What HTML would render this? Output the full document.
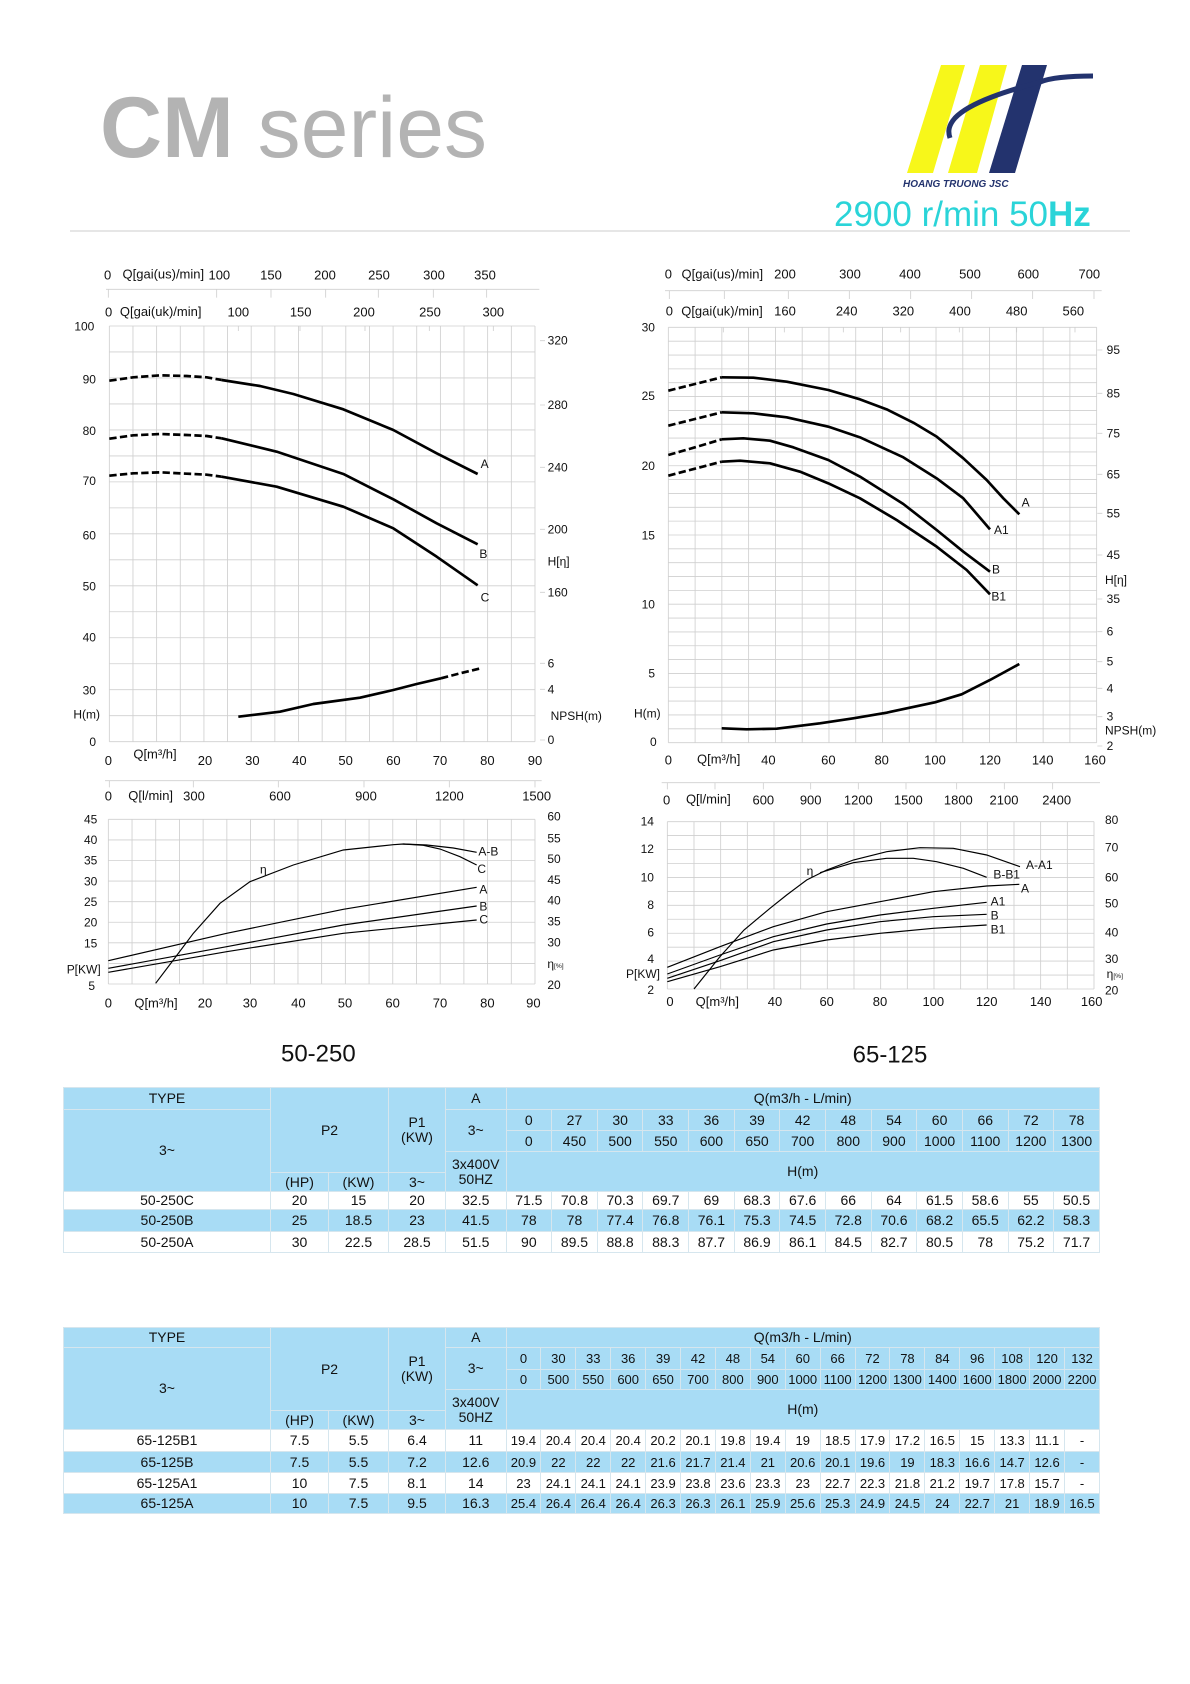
<!DOCTYPE html>
<html><head><meta charset="utf-8"><style>
body{margin:0;background:#fff;width:1190px;height:1684px;position:relative;overflow:hidden;font-family:"Liberation Sans",Arial,sans-serif}
svg{position:absolute;left:0;top:0}
table{position:absolute;left:63px;border-collapse:collapse;table-layout:fixed;width:1036px;font-size:14px;color:#111}
td{border:1px solid #d6e6ee;padding:0;text-align:center;vertical-align:middle;line-height:15px;white-space:nowrap;overflow:hidden}
.b td,td.b{background:#a8dcf5}
.w td{background:#fff}
.t2 td{font-size:13px}
</style></head><body>
<svg width="1190" height="1684" viewBox="0 0 1190 1684" font-family="Liberation Sans, Arial, sans-serif">
<!-- header -->
<text x="100" y="157" font-size="86" fill="#b3b3b3"><tspan font-weight="bold">CM</tspan> series</text>
<polygon points="941,65 965,65 933,173 907,173" fill="#f7f71a"/>
<polygon points="980,65 1007,65 977,173 948,173" fill="#f7f71a"/>
<polygon points="1022,65 1047,65 1015,173 989,173" fill="#23336e"/>
<path d="M1093,76 C1070,76 1050,78 1040,82 C1010,90 970,102 955,118 C948,126 948,132 950,138" stroke="#23336e" stroke-width="5" fill="none"/>
<text x="903" y="187" font-size="10" font-style="italic" font-weight="bold" fill="#23336e">HOANG TRUONG JSC</text>
<text x="834" y="226" font-size="35" fill="#2ad4d8">2900 r/min 50<tspan font-weight="bold">Hz</tspan></text>
<line x1="70" y1="231" x2="1130" y2="231" stroke="#d8d8d8" stroke-width="1.2"/>

<!-- chart 1 -->
<g transform="translate(60,250) scale(0.33333)" font-size="36" fill="#111">
<path d="M148,228V1475M218.9,228V1475M289.9,228V1475M360.8,228V1475M431.8,228V1475M502.7,228V1475M573.6,228V1475M644.6,228V1475M715.5,228V1475M786.5,228V1475M857.4,228V1475M928.3,228V1475M999.3,228V1475M1070.2,228V1475M1141.2,228V1475M1212.1,228V1475M1283,228V1475M1354,228V1475M1425,228V1475
M148,228H1425M148,305.9H1425M148,383.9H1425M148,461.8H1425M148,539.8H1425M148,617.7H1425M148,695.6H1425M148,773.6H1425M148,851.5H1425M148,929.5H1425M148,1007.4H1425M148,1085.3H1425M148,1163.3H1425M148,1241.2H1425M148,1319.2H1425M148,1397.1H1425M148,1475H1425" stroke="#cfcfcf" stroke-width="2.5" fill="none"/>
<path d="M138,118H1438M145,118v25M470,118v25M633,118v25M797,118v25M955,118v25M1120,118v25M1280,118v25M535,228v15M720,228v15M915,228v15M1108,228v15M1300,228v15M1440,272h15M1440,465h15M1440,652h15M1440,838h15M1440,1027h15M1440,1240h15M1440,1318h15M1440,1470h15" stroke="#cfcfcf" stroke-width="2.5"/>
<g font-size="39" text-anchor="middle"><text x="143" y="88">0</text><text x="478" y="88">100</text><text x="633" y="88">150</text><text x="795" y="88">200</text><text x="957" y="88">250</text><text x="1122" y="88">300</text><text x="1275" y="88">350</text>
<text x="146" y="200">0</text><text x="535" y="200">100</text><text x="722" y="200">150</text><text x="912" y="200">200</text><text x="1110" y="200">250</text><text x="1300" y="200">300</text>
<text x="145" y="1545">0</text><text x="435" y="1545">20</text><text x="577" y="1545">30</text><text x="718" y="1545">40</text><text x="857" y="1545">50</text><text x="1000" y="1545">60</text><text x="1140" y="1545">70</text><text x="1282" y="1545">80</text><text x="1425" y="1545">90</text></g>
<text x="310" y="86" font-size="39" text-anchor="middle">Q[gai(us)/min]</text>
<text x="302" y="198" font-size="39" text-anchor="middle">Q[gai(uk)/min]</text>
<text x="285" y="1525" font-size="39" text-anchor="middle">Q[m³/h]</text>
<g text-anchor="end"><text x="103" y="241">100</text><text x="108" y="400">90</text><text x="108" y="555">80</text><text x="108" y="705">70</text><text x="108" y="868">60</text><text x="108" y="1022">50</text><text x="108" y="1175">40</text><text x="108" y="1333">30</text><text x="120" y="1405">H(m)</text><text x="108" y="1488">0</text></g>
<g><text x="1463" y="284">320</text><text x="1463" y="477">280</text><text x="1463" y="664">240</text><text x="1463" y="850">200</text><text x="1463" y="947">H[η]</text><text x="1463" y="1039">160</text><text x="1463" y="1252">6</text><text x="1463" y="1330">4</text><text x="1472" y="1410">NPSH(m)</text><text x="1463" y="1482">0</text></g>
<g fill="none" stroke="#000" stroke-width="8" stroke-linejoin="round">
<polyline stroke-dasharray="22,10" points="148,392 220,382 300,376 380,378 440,382 485,390"/>
<polyline points="485,390 600,408 700,432 850,478 1000,540 1130,610 1253,672"/>
<polyline stroke-dasharray="22,10" points="148,566 220,556 300,552 380,555 440,558 485,565"/>
<polyline points="485,565 650,605 850,672 1000,748 1130,820 1253,883"/>
<polyline stroke-dasharray="22,10" points="148,677 220,670 300,667 380,671 440,674 485,680"/>
<polyline points="485,680 650,710 850,770 1000,835 1130,920 1253,1006"/>
<polyline points="535,1400 660,1385 760,1362 900,1343 1000,1320 1070,1302 1143,1285"/>
<polyline stroke-dasharray="22,10" points="1143,1285 1200,1270 1258,1256"/>
</g>
<text x="1262" y="654">A</text><text x="1258" y="924">B</text><text x="1262" y="1054">C</text>
</g>

<!-- chart 2 -->
<g transform="translate(620,250) scale(0.33333)" font-size="36" fill="#111">
<path d="M145,232V1478M225.3,232V1478M305.6,232V1478M385.9,232V1478M466.3,232V1478M546.6,232V1478M626.9,232V1478M707.2,232V1478M787.5,232V1478M867.8,232V1478M948.1,232V1478M1028.4,232V1478M1108.8,232V1478M1189.1,232V1478M1269.4,232V1478M1349.7,232V1478M1430,232V1478
M145,232H1430M145,273.5H1430M145,315.1H1430M145,356.6H1430M145,398.1H1430M145,439.7H1430M145,481.2H1430M145,522.7H1430M145,564.3H1430M145,605.8H1430M145,647.3H1430M145,688.8H1430M145,730.4H1430M145,771.9H1430M145,813.4H1430M145,855H1430M145,896.5H1430M145,938H1430M145,979.6H1430M145,1021.1H1430M145,1062.6H1430M145,1104.2H1430M145,1145.7H1430M145,1187.2H1430M145,1228.8H1430M145,1270.3H1430M145,1311.8H1430M145,1353.3H1430M145,1394.9H1430M145,1436.4H1430M145,1478H1430" stroke="#cfcfcf" stroke-width="2.5" fill="none"/>
<path d="M135,122H1445M148,122v25M313,122v25M505,122v25M688,122v25M872,122v25M1055,122v25M1238,122v25M1422,122v25M310,232v15M493,232v15M670,232v15M842,232v15M1018,232v15M1190,232v15M1365,232v15M1432,300h15M1432,430h15M1432,550h15M1432,673h15M1432,790h15M1432,915h15M1432,1047h15M1432,1145h15M1432,1235h15M1432,1315h15M1432,1400h15M1432,1488h15" stroke="#cfcfcf" stroke-width="2.5"/>
<g font-size="39" text-anchor="middle"><text x="145" y="85">0</text><text x="495" y="85">200</text><text x="690" y="85">300</text><text x="870" y="85">400</text><text x="1050" y="85">500</text><text x="1225" y="85">600</text><text x="1408" y="85">700</text>
<text x="148" y="196">0</text><text x="495" y="196">160</text><text x="680" y="196">240</text><text x="850" y="196">320</text><text x="1020" y="196">400</text><text x="1190" y="196">480</text><text x="1360" y="196">560</text>
<text x="145" y="1543">0</text><text x="445" y="1543">40</text><text x="625" y="1543">60</text><text x="785" y="1543">80</text><text x="945" y="1543">100</text><text x="1110" y="1543">120</text><text x="1268" y="1543">140</text><text x="1425" y="1543">160</text></g>
<text x="307" y="85" font-size="39" text-anchor="middle">Q[gai(us)/min]</text>
<text x="306" y="196" font-size="39" text-anchor="middle">Q[gai(uk)/min]</text>
<text x="296" y="1541" font-size="39" text-anchor="middle">Q[m³/h]</text>
<g text-anchor="end"><text x="105" y="245">30</text><text x="105" y="450">25</text><text x="105" y="660">20</text><text x="105" y="868">15</text><text x="105" y="1076">10</text><text x="105" y="1283">5</text><text x="122" y="1402">H(m)</text><text x="110" y="1488">0</text></g>
<g><text x="1460" y="312">95</text><text x="1460" y="442">85</text><text x="1460" y="562">75</text><text x="1460" y="685">65</text><text x="1460" y="802">55</text><text x="1460" y="927">45</text><text x="1455" y="1002">H[η]</text><text x="1460" y="1059">35</text><text x="1460" y="1157">6</text><text x="1460" y="1247">5</text><text x="1460" y="1327">4</text><text x="1460" y="1412">3</text><text x="1455" y="1454">NPSH(m)</text><text x="1460" y="1500">2</text></g>
<g fill="none" stroke="#000" stroke-width="8" stroke-linejoin="round">
<polyline stroke-dasharray="22,10" points="145,422 225,402 305,382"/>
<polyline points="305,382 400,383 500,395 625,420 720,448 800,478 880,518 950,560 1030,625 1100,690 1150,745 1198,793"/>
<polyline stroke-dasharray="22,10" points="145,527 225,507 305,487"/>
<polyline points="305,487 400,490 500,502 625,530 720,562 850,622 950,685 1030,745 1110,838"/>
<polyline stroke-dasharray="22,10" points="145,615 225,592 305,568"/>
<polyline points="305,568 370,565 450,572 520,592 625,630 720,680 850,762 950,840 1030,905 1110,965"/>
<polyline stroke-dasharray="22,10" points="145,677 225,656 305,635"/>
<polyline points="305,635 360,632 450,640 540,665 625,700 720,745 830,810 950,890 1040,960 1110,1033"/>
<polyline points="305,1435 380,1438 470,1436 600,1420 700,1405 800,1388 945,1357 1025,1333 1110,1290 1198,1242"/>
</g>
<text x="1205" y="770">A</text><text x="1122" y="852">A1</text><text x="1116" y="970">B</text><text x="1114" y="1052">B1</text>
</g>

<!-- chart 3 -->
<g transform="translate(60,770) scale(0.33333)" font-size="36" fill="#111">
<path d="M145,148V642M216.1,148V642M287.2,148V642M358.3,148V642M429.4,148V642M500.6,148V642M571.7,148V642M642.8,148V642M713.9,148V642M785,148V642M856.1,148V642M927.2,148V642M998.3,148V642M1069.4,148V642M1140.6,148V642M1211.7,148V642M1282.8,148V642M1353.9,148V642M1425,148V642
M145,148H1425M145,209.75H1425M145,271.5H1425M145,333.25H1425M145,395H1425M145,456.75H1425M145,518.5H1425M145,580.25H1425M145,642H1425" stroke="#cfcfcf" stroke-width="2.5" fill="none"/>
<path d="M135,32H1445M148,32v20M400,32v20M655,32v20M912,32v20M1168,32v20M1425,32v20" stroke="#cfcfcf" stroke-width="2.5"/>
<g font-size="39" text-anchor="middle"><text x="145" y="92">0</text><text x="402" y="92">300</text><text x="660" y="92">600</text><text x="918" y="92">900</text><text x="1168" y="92">1200</text><text x="1430" y="92">1500</text>
<text x="145" y="712">0</text><text x="435" y="712">20</text><text x="570" y="712">30</text><text x="715" y="712">40</text><text x="855" y="712">50</text><text x="998" y="712">60</text><text x="1140" y="712">70</text><text x="1282" y="712">80</text><text x="1420" y="712">90</text></g>
<text x="272" y="90" font-size="39" text-anchor="middle">Q[l/min]</text>
<text x="288" y="712" font-size="39" text-anchor="middle">Q[m³/h]</text>
<g text-anchor="end"><text x="112" y="160">45</text><text x="112" y="222">40</text><text x="112" y="284">35</text><text x="112" y="347">30</text><text x="112" y="408">25</text><text x="112" y="470">20</text><text x="112" y="532">15</text><text x="122" y="610">P[KW]</text><text x="105" y="660">5</text></g>
<g><text x="1462" y="152">60</text><text x="1462" y="217">55</text><text x="1462" y="279">50</text><text x="1462" y="342">45</text><text x="1462" y="404">40</text><text x="1462" y="467">35</text><text x="1462" y="529">30</text><text x="1462" y="594">η<tspan font-size="20">[%]</tspan></text><text x="1462" y="657">20</text></g>
<g fill="none" stroke="#000" stroke-width="3.5">
<polyline points="287,640 340,570 400,490 480,400 570,335 700,285 850,240 1000,224 1030,222 1100,225 1180,234 1250,247"/>
<polyline points="1030,222 1090,226 1140,237 1200,260 1250,285"/>
<polyline points="145,572 500,490 850,418 1250,352"/>
<polyline points="145,595 500,530 850,465 1250,408"/>
<polyline points="145,607 500,545 850,490 1250,450"/>
</g>
<text x="600" y="310">η</text><text x="1255" y="257">A-B</text><text x="1252" y="309">C</text>
<text x="1258" y="370">A</text><text x="1258" y="422">B</text><text x="1258" y="460">C</text>
<text x="775" y="875" font-size="72" text-anchor="middle">50-250</text>
</g>

<!-- chart 4 -->
<g transform="translate(620,770) scale(0.33333)" font-size="36" fill="#111">
<path d="M142,155V657M222,155V657M302,155V657M382,155V657M462,155V657M542,155V657M622,155V657M702,155V657M782,155V657M862,155V657M942,155V657M1022,155V657M1102,155V657M1182,155V657M1262,155V657M1342,155V657M1422,155V657
M142,155H1422M142,196.8H1422M142,238.7H1422M142,280.5H1422M142,322.3H1422M142,364.2H1422M142,406H1422M142,447.8H1422M142,489.7H1422M142,531.5H1422M142,573.3H1422M142,615.2H1422M142,657H1422" stroke="#cfcfcf" stroke-width="2.5" fill="none"/>
<path d="M125,38H1440M142,38v20M285,38v20M430,38v20M572,38v20M715,38v20M858,38v20M1010,38v20M1153,38v20M1298,38v20" stroke="#cfcfcf" stroke-width="2.5"/>
<g font-size="39" text-anchor="middle"><text x="140" y="103">0</text><text x="430" y="103">600</text><text x="572" y="103">900</text><text x="715" y="103">1200</text><text x="865" y="103">1500</text><text x="1015" y="103">1800</text><text x="1152" y="103">2100</text><text x="1310" y="103">2400</text>
<text x="150" y="708">0</text><text x="465" y="708">40</text><text x="620" y="708">60</text><text x="780" y="708">80</text><text x="940" y="708">100</text><text x="1100" y="708">120</text><text x="1262" y="708">140</text><text x="1415" y="708">160</text></g>
<text x="265" y="101" font-size="39" text-anchor="middle">Q[l/min]</text>
<text x="292" y="708" font-size="39" text-anchor="middle">Q[m³/h]</text>
<g text-anchor="end"><text x="102" y="167">14</text><text x="102" y="249">12</text><text x="102" y="334">10</text><text x="102" y="417">8</text><text x="102" y="499">6</text><text x="102" y="579">4</text><text x="120" y="624">P[KW]</text><text x="102" y="672">2</text></g>
<g><text x="1455" y="162">80</text><text x="1455" y="245">70</text><text x="1455" y="334">60</text><text x="1455" y="412">50</text><text x="1455" y="500">40</text><text x="1455" y="579">30</text><text x="1460" y="624">η<tspan font-size="20">[%]</tspan></text><text x="1455" y="674">20</text></g>
<g fill="none" stroke="#000" stroke-width="3.5">
<polyline points="222,657 300,560 372,480 450,415 500,375 560,330 620,300 700,270 800,245 900,233 1000,235 1100,255 1200,290"/>
<polyline points="600,308 700,278 800,265 880,265 950,275 1030,295 1100,322"/>
<polyline points="142,592 300,530 460,470 620,425 780,395 940,365 1100,348 1198,343"/>
<polyline points="142,612 300,555 460,500 620,462 780,435 940,415 1100,397"/>
<polyline points="142,625 300,572 460,515 620,480 780,455 940,440 1100,433"/>
<polyline points="142,635 300,590 460,540 620,510 780,490 940,475 1100,465"/>
</g>
<text x="560" y="315">η</text><text x="1218" y="297">A-A1</text><text x="1120" y="325">B-B1</text>
<text x="1203" y="367">A</text><text x="1112" y="407">A1</text><text x="1112" y="448">B</text><text x="1112" y="490">B1</text>
<text x="810" y="878" font-size="72" text-anchor="middle">65-125</text>
</g>
</svg>

<table style="top:1087px">
<colgroup><col style="width:207px"><col style="width:58px"><col style="width:60px"><col style="width:57px"><col style="width:60.5px"><col span="13" style="width:45.65px"></colgroup>
<tr class="b" style="height:22px"><td>TYPE</td><td colspan="2" rowspan="4">P2</td><td rowspan="4">P1<br>(KW)</td><td>A</td><td colspan="13">Q(m3/h - L/min)</td></tr>
<tr class="b" style="height:21px"><td rowspan="4">3~</td><td rowspan="2">3~</td><td>0</td><td>27</td><td>30</td><td>33</td><td>36</td><td>39</td><td>42</td><td>48</td><td>54</td><td>60</td><td>66</td><td>72</td><td>78</td></tr>
<tr class="b" style="height:21px"><td>0</td><td>450</td><td>500</td><td>550</td><td>600</td><td>650</td><td>700</td><td>800</td><td>900</td><td>1000</td><td>1100</td><td>1200</td><td>1300</td></tr>
<tr class="b" style="height:21px"><td rowspan="2">3x400V<br>50HZ</td><td colspan="13" rowspan="2">H(m)</td></tr>
<tr class="b" style="height:19px"><td>(HP)</td><td>(KW)</td><td>3~</td></tr>
<tr class="w" style="height:18px"><td>50-250C</td><td>20</td><td>15</td><td>20</td><td>32.5</td><td>71.5</td><td>70.8</td><td>70.3</td><td>69.7</td><td>69</td><td>68.3</td><td>67.6</td><td>66</td><td>64</td><td>61.5</td><td>58.6</td><td>55</td><td>50.5</td></tr>
<tr class="b" style="height:22px"><td>50-250B</td><td>25</td><td>18.5</td><td>23</td><td>41.5</td><td>78</td><td>78</td><td>77.4</td><td>76.8</td><td>76.1</td><td>75.3</td><td>74.5</td><td>72.8</td><td>70.6</td><td>68.2</td><td>65.5</td><td>62.2</td><td>58.3</td></tr>
<tr class="w" style="height:21px"><td>50-250A</td><td>30</td><td>22.5</td><td>28.5</td><td>51.5</td><td>90</td><td>89.5</td><td>88.8</td><td>88.3</td><td>87.7</td><td>86.9</td><td>86.1</td><td>84.5</td><td>82.7</td><td>80.5</td><td>78</td><td>75.2</td><td>71.7</td></tr>
</table>

<table class="t2" style="top:1327px">
<colgroup><col style="width:207px"><col style="width:58px"><col style="width:60px"><col style="width:57px"><col style="width:60.5px"><col span="17" style="width:34.91px"></colgroup>
<tr class="b" style="height:20px"><td style="font-size:14px">TYPE</td><td colspan="2" rowspan="4" style="font-size:14px">P2</td><td rowspan="4" style="font-size:14px">P1<br>(KW)</td><td style="font-size:14px">A</td><td colspan="17" style="font-size:14px">Q(m3/h - L/min)</td></tr>
<tr class="b" style="height:22px"><td rowspan="4" style="font-size:14px">3~</td><td rowspan="2" style="font-size:14px">3~</td><td>0</td><td>30</td><td>33</td><td>36</td><td>39</td><td>42</td><td>48</td><td>54</td><td>60</td><td>66</td><td>72</td><td>78</td><td>84</td><td>96</td><td>108</td><td>120</td><td>132</td></tr>
<tr class="b" style="height:20px"><td>0</td><td>500</td><td>550</td><td>600</td><td>650</td><td>700</td><td>800</td><td>900</td><td>1000</td><td>1100</td><td>1200</td><td>1300</td><td>1400</td><td>1600</td><td>1800</td><td>2000</td><td>2200</td></tr>
<tr class="b" style="height:21px"><td rowspan="2" style="font-size:14px">3x400V<br>50HZ</td><td colspan="17" rowspan="2" style="font-size:14px">H(m)</td></tr>
<tr class="b" style="height:19px"><td style="font-size:14px">(HP)</td><td style="font-size:14px">(KW)</td><td style="font-size:14px">3~</td></tr>
<tr class="w" style="height:22px"><td style="font-size:14px">65-125B1</td><td style="font-size:14px">7.5</td><td style="font-size:14px">5.5</td><td style="font-size:14px">6.4</td><td style="font-size:14px">11</td><td>19.4</td><td>20.4</td><td>20.4</td><td>20.4</td><td>20.2</td><td>20.1</td><td>19.8</td><td>19.4</td><td>19</td><td>18.5</td><td>17.9</td><td>17.2</td><td>16.5</td><td>15</td><td>13.3</td><td>11.1</td><td>-</td></tr>
<tr class="b" style="height:21px"><td style="font-size:14px">65-125B</td><td style="font-size:14px">7.5</td><td style="font-size:14px">5.5</td><td style="font-size:14px">7.2</td><td style="font-size:14px">12.6</td><td>20.9</td><td>22</td><td>22</td><td>22</td><td>21.6</td><td>21.7</td><td>21.4</td><td>21</td><td>20.6</td><td>20.1</td><td>19.6</td><td>19</td><td>18.3</td><td>16.6</td><td>14.7</td><td>12.6</td><td>-</td></tr>
<tr class="w" style="height:21px"><td style="font-size:14px">65-125A1</td><td style="font-size:14px">10</td><td style="font-size:14px">7.5</td><td style="font-size:14px">8.1</td><td style="font-size:14px">14</td><td>23</td><td>24.1</td><td>24.1</td><td>24.1</td><td>23.9</td><td>23.8</td><td>23.6</td><td>23.3</td><td>23</td><td>22.7</td><td>22.3</td><td>21.8</td><td>21.2</td><td>19.7</td><td>17.8</td><td>15.7</td><td>-</td></tr>
<tr class="b" style="height:20px"><td style="font-size:14px">65-125A</td><td style="font-size:14px">10</td><td style="font-size:14px">7.5</td><td style="font-size:14px">9.5</td><td style="font-size:14px">16.3</td><td>25.4</td><td>26.4</td><td>26.4</td><td>26.4</td><td>26.3</td><td>26.3</td><td>26.1</td><td>25.9</td><td>25.6</td><td>25.3</td><td>24.9</td><td>24.5</td><td>24</td><td>22.7</td><td>21</td><td>18.9</td><td>16.5</td></tr>
</table>
</body></html>
